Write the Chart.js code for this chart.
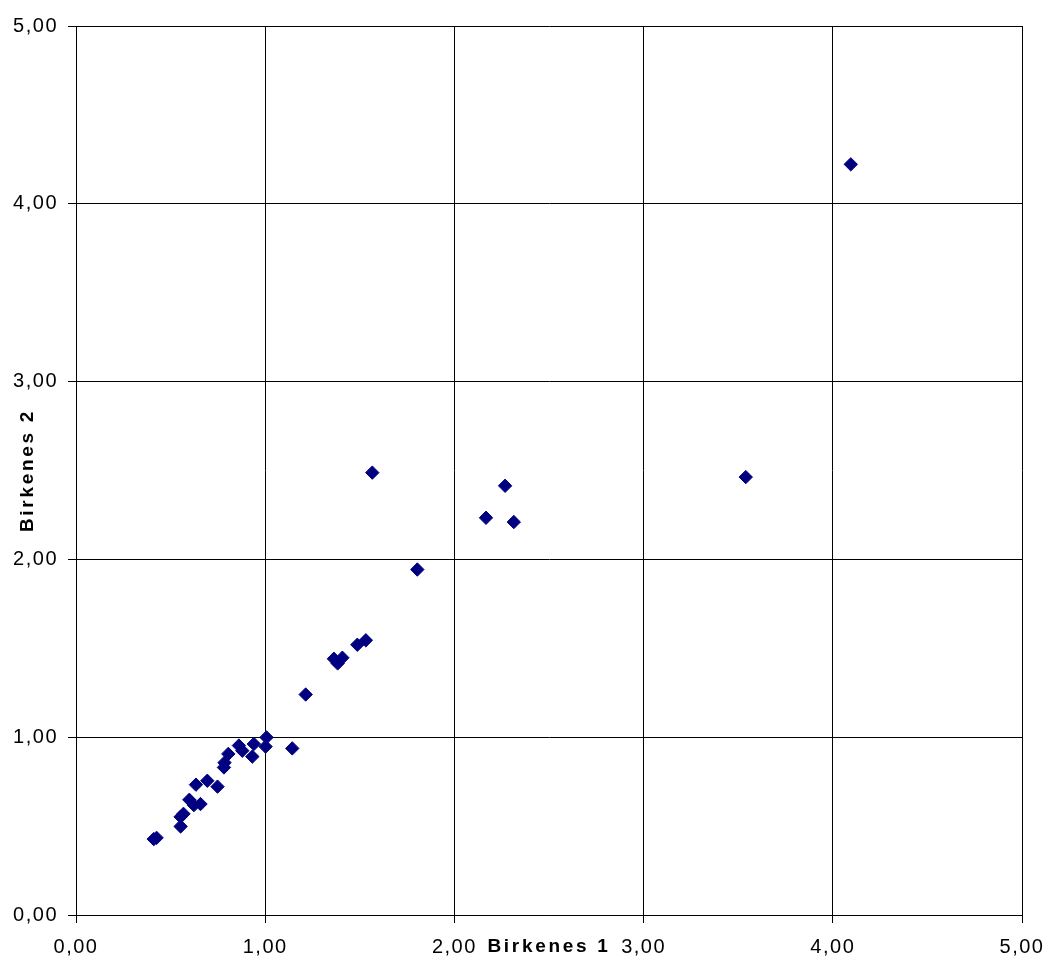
<!DOCTYPE html>
<html>
<head>
<meta charset="utf-8">
<title>Birkenes 1 / Birkenes 2</title>
<script src="https://cdn.jsdelivr.net/npm/chart.js@4/dist/chart.umd.min.js"></script>
<style>
  html, body { margin: 0; padding: 0; background: #fff; }
  .chart-wrapper { width: 1049px; height: 961px; position: relative; }
</style>
</head>
<body>
<div class="chart-wrapper">
  <canvas id="scatterChart"></canvas>
</div>
<script>
// Birkenes 1 (x) vs Birkenes 2 (y)
const birkenes1 = [
  4.095, 3.540, 1.566, 2.268, 2.167, 2.314, 1.804, 1.532, 1.487, 1.363,
  1.408, 1.383, 1.214, 1.143, 1.007, 1.002, 0.940, 0.932, 0.861, 0.879,
  0.805, 0.782, 0.785, 0.694, 0.634, 0.748, 0.599, 0.623, 0.658, 0.553,
  0.568, 0.553, 0.411, 0.426,
];
const birkenes2 = [
  4.222, 2.463, 2.488, 2.414, 2.234, 2.210, 1.943, 1.545, 1.520, 1.441,
  1.447, 1.415, 1.240, 0.937, 0.999, 0.947, 0.962, 0.891, 0.953, 0.924,
  0.906, 0.830, 0.857, 0.755, 0.733, 0.722, 0.648, 0.618, 0.624, 0.552,
  0.569, 0.498, 0.427, 0.434,
];
const xTitle = 'Birkenes 1';
const yTitle = 'Birkenes 2';
const axisMin = 0;
const axisMax = 5;

const points = birkenes1.map((x, i) => ({ x: x, y: birkenes2[i] }));
const fmt = (v) => Number(v).toFixed(2).replace('.', ',');

// canvas letterSpacing isn't a Chart.js font option, so set it on the context
function spacedTitle(scale) {
  if (scale._spaced) return;
  scale._spaced = true;
  const orig = scale.drawTitle;
  scale.drawTitle = function () {
    this.ctx.save();
    this.ctx.letterSpacing = '2.7px';
    orig.call(this);
    this.ctx.restore();
  };
}

const letterSpacingPlugin = {
  id: 'letterSpacing',
  beforeDraw(chart) {
    chart.ctx.letterSpacing = '1.5px';
  },
};

const tickFont = { family: "'Liberation Sans', Arial, sans-serif", size: 20 };
const titleFont = { family: "'Liberation Sans', Arial, sans-serif", size: 19, weight: 'bold' };

new Chart(document.getElementById('scatterChart').getContext('2d'), {
  type: 'scatter',
  data: {
    datasets: [
      {
        label: yTitle,
        data: points,
        pointStyle: 'rectRot',
        pointRadius: 6.7,
        pointHoverRadius: 6.7,
        backgroundColor: '#000080',
        borderColor: '#000080',
        borderWidth: 1,
      },
    ],
  },
  plugins: [letterSpacingPlugin],
  options: {
    responsive: true,
    maintainAspectRatio: false,
    animation: false,
    layout: { padding: { top: 26, right: 27, bottom: 0, left: 0 } },
    plugins: {
      legend: { display: false },
      tooltip: { enabled: false },
    },
    scales: {
      x: {
        type: 'linear',
        min: axisMin,
        max: axisMax,
        afterFit(scale) {
          scale.height = 46;
          scale.paddingLeft = 0;
          scale.paddingRight = 0;
          spacedTitle(scale);
        },
        ticks: {
          stepSize: 1,
          color: '#000',
          font: tickFont,
          padding: 12,
          maxRotation: 0,
          callback: fmt,
        },
        grid: { color: '#000', lineWidth: 1, tickLength: 8, tickColor: '#000' },
        border: { color: '#000', width: 1 },
        title: {
          display: true,
          text: xTitle,
          color: '#000',
          font: titleFont,
          padding: { top: 0, bottom: 3 },
        },
      },
      y: {
        type: 'linear',
        min: axisMin,
        max: axisMax,
        afterFit(scale) {
          scale.width = 76;
          scale.paddingTop = 0;
          scale.paddingBottom = 0;
          spacedTitle(scale);
        },
        ticks: {
          stepSize: 1,
          color: '#000',
          font: tickFont,
          padding: 10,
          callback: fmt,
        },
        grid: { color: '#000', lineWidth: 1, tickLength: 8, tickColor: '#000' },
        border: { color: '#000', width: 1 },
        title: {
          display: true,
          text: yTitle,
          color: '#000',
          font: titleFont,
          padding: { top: 16, bottom: 0 },
        },
      },
    },
  },
});
</script>
</body>
</html>
